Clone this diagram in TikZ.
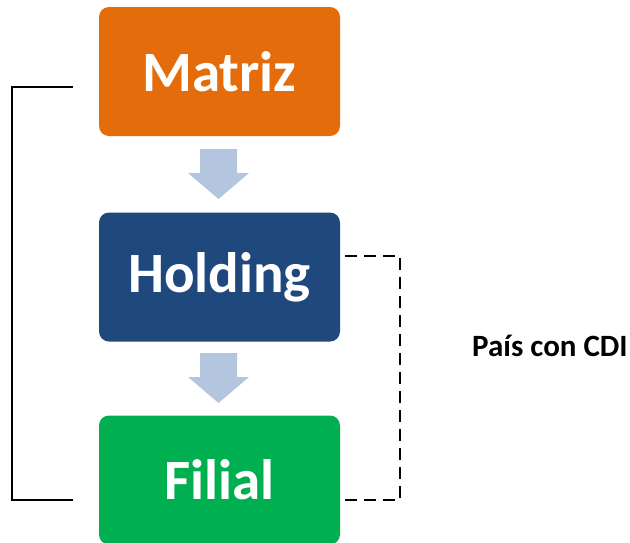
\documentclass[tikz,border=0pt]{standalone}
\usepackage{fontspec}
\setmainfont{Carlito}
\usetikzlibrary{shapes.arrows}
\definecolor{matrizc}{HTML}{E46C0A}
\definecolor{holdc}{HTML}{1F497D}
\definecolor{filc}{HTML}{00B050}
\definecolor{arrc}{HTML}{B4C5E0}
\begin{document}
\begin{tikzpicture}[x=1pt,y=-1pt,
  box/.style={rounded corners=10pt, minimum width=241pt, minimum height=129pt, inner sep=0pt,
    text=white, font=\fontsize{57}{60}\selectfont\bfseries},
  blockarrow/.style={fill=arrc, draw=none},
  solidbr/.style={draw=black, line width=1.4pt},
  dashbr/.style={draw=black, line width=1.4pt, dash pattern=on 12pt off 7pt}]
\useasboundingbox (0,0) rectangle (630,542);
\begin{scope}
\clip (0,0) rectangle (630,542);
\node[box, fill=matrizc] (m) at (219.5,71.5) {Matriz};
\node[box, fill=holdc] (h) at (219.5,277) {Holding};
\node[box, fill=filc] (f) at (219.5,480) {Filial};
\end{scope}
% block arrows
\fill[blockarrow] (200,149) -- (237,149) -- (237,173) -- (249,173) -- (218.5,199) -- (188,173) -- (200,173) -- cycle;
\fill[blockarrow] (200,353) -- (237,353) -- (237,377) -- (249,377) -- (218.5,403) -- (188,377) -- (200,377) -- cycle;
% brackets
\coordinate (l1) at (73,87);
\coordinate (l2) at (73,500);
\draw[solidbr] (l1) -- (12,87) -- (12,500) -- (l2);
\coordinate (r1) at (345,256);
\coordinate (r2) at (345,500);
\draw[dashbr] (r1) -- (400,256) -- (400,500) -- (r2);
\node[anchor=base, font=\fontsize{31}{34}\selectfont\bfseries, inner sep=0pt] (t) at (550,356) {País con CDI};
\end{tikzpicture}
\end{document}
